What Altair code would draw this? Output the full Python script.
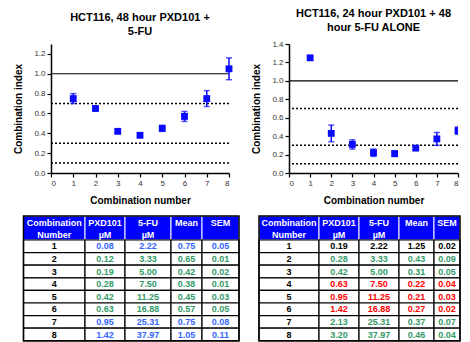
import altair as alt
import pandas as pd

# ---------------- data ----------------
combo = [1, 2, 3, 4, 5, 6, 7, 8]
pxd_a = [0.08, 0.12, 0.19, 0.28, 0.42, 0.63, 0.95, 1.42]
fu_a = [2.22, 3.33, 5.00, 7.50, 11.25, 16.88, 25.31, 37.97]
mean_a = [0.75, 0.65, 0.42, 0.38, 0.45, 0.57, 0.75, 1.05]
sem_a = [0.05, 0.01, 0.02, 0.01, 0.03, 0.05, 0.08, 0.11]

pxd_b = [0.19, 0.28, 0.42, 0.63, 0.95, 1.42, 2.13, 3.20]
fu_b = [2.22, 3.33, 5.00, 7.50, 11.25, 16.88, 25.31, 37.97]
mean_b = [1.25, 0.43, 0.31, 0.22, 0.21, 0.27, 0.37, 0.46]
sem_b = [0.02, 0.09, 0.05, 0.04, 0.03, 0.02, 0.07, 0.04]

ref_solid = [1.0]
ref_dotted = [0.7, 0.3, 0.1]

title_a = ["HCT116, 48 hour PXD101 +", "5-FU"]
title_b = ["HCT116, 24 hour PXD101 + 48", "hour 5-FU ALONE"]
head_line1 = ["Combination", "PXD101", "5-FU", "Mean", "SEM"]
head_line2 = ["Number", "µM", "µM", "", ""]

yticks_a = [0.0, 0.2, 0.4, 0.6, 0.8, 1.0, 1.2]
yticks_b = [0.0, 0.2, 0.4, 0.6, 0.8, 1.0, 1.2, 1.4]
xticks = [0, 1, 2, 3, 4, 5, 6, 7, 8]

# ---------------- style / layout ----------------
FONT = "Liberation Sans"
BLUE = "#0a0aff"
CI_COLORS = ["#ff0000", "#339966", "#3366ff", "#000000"]  # <0.3, <0.7, <1.1, >=1.1
CI_LIMITS = [0.3, 0.7, 1.1]
HEADER_H = 24
ROW_H = 12.6


def ci_color(v):
    for lim, col in zip(CI_LIMITS, CI_COLORS):
        if v < lim:
            return col
    return CI_COLORS[-1]


def scatter(mean, sem, ymax, yticks, title, width, clip):
    df = pd.DataFrame({"n": combo, "mean": mean, "sem": sem})
    df["lo"] = df["mean"] - df["sem"]
    df["hi"] = df["mean"] + df["sem"]
    xs = alt.Scale(domain=[0, 8], nice=False, zero=False)
    ys = alt.Scale(domain=[0, ymax], nice=False, zero=False)
    xax = alt.Axis(values=xticks, format="d", title="Combination number")
    yax = alt.Axis(values=yticks, format=".1f", title="Combination index")

    def X(f):
        return alt.X(f, scale=xs, axis=xax)

    def Y(f):
        return alt.Y(f, scale=ys, axis=yax)

    solid = alt.Chart(pd.DataFrame({"v": ref_solid})).mark_rule(
        color="black", strokeWidth=1.2).encode(y=Y("v:Q"))
    dotted = alt.Chart(pd.DataFrame({"v": ref_dotted})).mark_rule(
        color="black", strokeWidth=1.5, strokeDash=[2, 2]).encode(y=Y("v:Q"))
    base = alt.Chart(df)
    bars = base.mark_rule(color=BLUE, strokeWidth=1.5, clip=clip).encode(
        x=X("n:Q"), y=Y("lo:Q"), y2="hi:Q")
    caps = base.transform_fold(["lo", "hi"], as_=["k", "v"]).mark_tick(
        color=BLUE, orient="horizontal", size=6, thickness=1.5, clip=clip).encode(
        x=X("n:Q"), y=Y("v:Q"))
    pts = base.mark_square(color=BLUE, size=47, opacity=1, filled=True, clip=clip).encode(
        x=X("n:Q"), y=Y("mean:Q"))
    return alt.layer(solid, dotted, bars, caps, pts).properties(
        width=width, height=129,
        title=alt.Title(title, fontSize=11, font=FONT, fontWeight="bold",
                        lineHeight=14, offset=7, anchor="middle", color="black"))


def table(pxd, fu, mean, sem, widths, x_off, view_w):
    edges = [0]
    for w in widths:
        edges.append(edges[-1] + w)
    total_h = HEADER_H + ROW_H * len(combo)
    head = pd.DataFrame({
        "x0": edges[:-1], "x1": edges[1:],
        "xc": [(a + b) / 2 for a, b in zip(edges[:-1], edges[1:])],
        "y0": [0] * 5, "y1": [HEADER_H] * 5,
        "yl1": [7] * 5, "yl2": [19] * 5,
        "t1": head_line1, "t2": head_line2,
    })
    rows = []
    for i, n in enumerate(combo):
        vals = [str(n), f"{pxd[i]:.2f}", f"{fu[i]:.2f}", f"{mean[i]:.2f}", f"{sem[i]:.2f}"]
        col = ci_color(mean[i])
        for c in range(5):
            rows.append({
                "x0": edges[c], "x1": edges[c + 1],
                "xc": (edges[c] + edges[c + 1]) / 2,
                "y0": HEADER_H + ROW_H * i, "y1": HEADER_H + ROW_H * (i + 1),
                "yc": HEADER_H + ROW_H * (i + 0.5),
                "t": vals[c], "col": "#000000" if c == 0 else col,
            })
    body = pd.DataFrame(rows)
    outer = pd.DataFrame({"x0": [edges[0]], "x1": [edges[-1]], "y0": [0], "y1": [total_h]})

    xs = alt.Scale(domain=[x_off, x_off + view_w], nice=False, zero=False)
    ys = alt.Scale(domain=[0, total_h], nice=False, zero=False, reverse=True)

    def X(f):
        return alt.X(f, scale=xs, axis=None)

    def Y(f):
        return alt.Y(f, scale=ys, axis=None)

    hrect = alt.Chart(head).mark_rect(fill="#0000ff", stroke="white", strokeWidth=1).encode(
        x=X("x0:Q"), x2="x1:Q", y=Y("y0:Q"), y2="y1:Q")
    brect = alt.Chart(body).mark_rect(fill="white", stroke="black", strokeWidth=1.2).encode(
        x=X("x0:Q"), x2="x1:Q", y=Y("y0:Q"), y2="y1:Q")
    orect = alt.Chart(outer).mark_rect(fillOpacity=0, stroke="black", strokeWidth=1.5).encode(
        x=X("x0:Q"), x2="x1:Q", y=Y("y0:Q"), y2="y1:Q")
    ht1 = alt.Chart(head).mark_text(font=FONT, fontSize=9, fontWeight="bold", color="white").encode(
        x=X("xc:Q"), y=Y("yl1:Q"), text="t1:N")
    ht2 = alt.Chart(head).mark_text(font=FONT, fontSize=9, fontWeight="bold", color="white").encode(
        x=X("xc:Q"), y=Y("yl2:Q"), text="t2:N")
    btxt = alt.Chart(body).mark_text(font=FONT, fontSize=9, fontWeight="bold").encode(
        x=X("xc:Q"), y=Y("yc:Q"), text="t:N", color=alt.Color("col:N", scale=None))
    return alt.layer(hrect, brect, orect, ht1, ht2, btxt).properties(width=view_w, height=total_h)


W1, W2 = 178, 169
s1 = scatter(mean_a, sem_a, 1.3, yticks_a, title_a, W1, False)
s2 = scatter(mean_b, sem_b, 1.4, yticks_b, title_b, W2, True)
t1 = table(pxd_a, fu_a, mean_a, sem_a, [61.5, 40, 46, 31, 37], 27.5, W1)
t2 = table(pxd_b, fu_b, mean_b, sem_b, [60, 40, 40, 35, 26], 30, W2)

chart = alt.concat(s1, s2, t1, t2, columns=2, bounds="flush",
                   spacing={"row": 43, "column": 60}).properties(
    padding={"left": 5, "top": 0, "right": 0, "bottom": 0}
).configure_view(stroke=None).configure_axis(
    labelFont=FONT, labelFontSize=8, labelColor="#333333", labelPadding=2,
    titleFont=FONT, titleFontSize=10, titleFontWeight="bold", titleColor="black",
    domainColor="black", domainWidth=1.5, tickColor="black", tickWidth=1.2,
    tickSize=4, grid=False,
).configure_axisY(titlePadding=10).configure_axisX(titlePadding=8)

chart.save("out.html", embed_options={"renderer": "svg", "actions": False})
